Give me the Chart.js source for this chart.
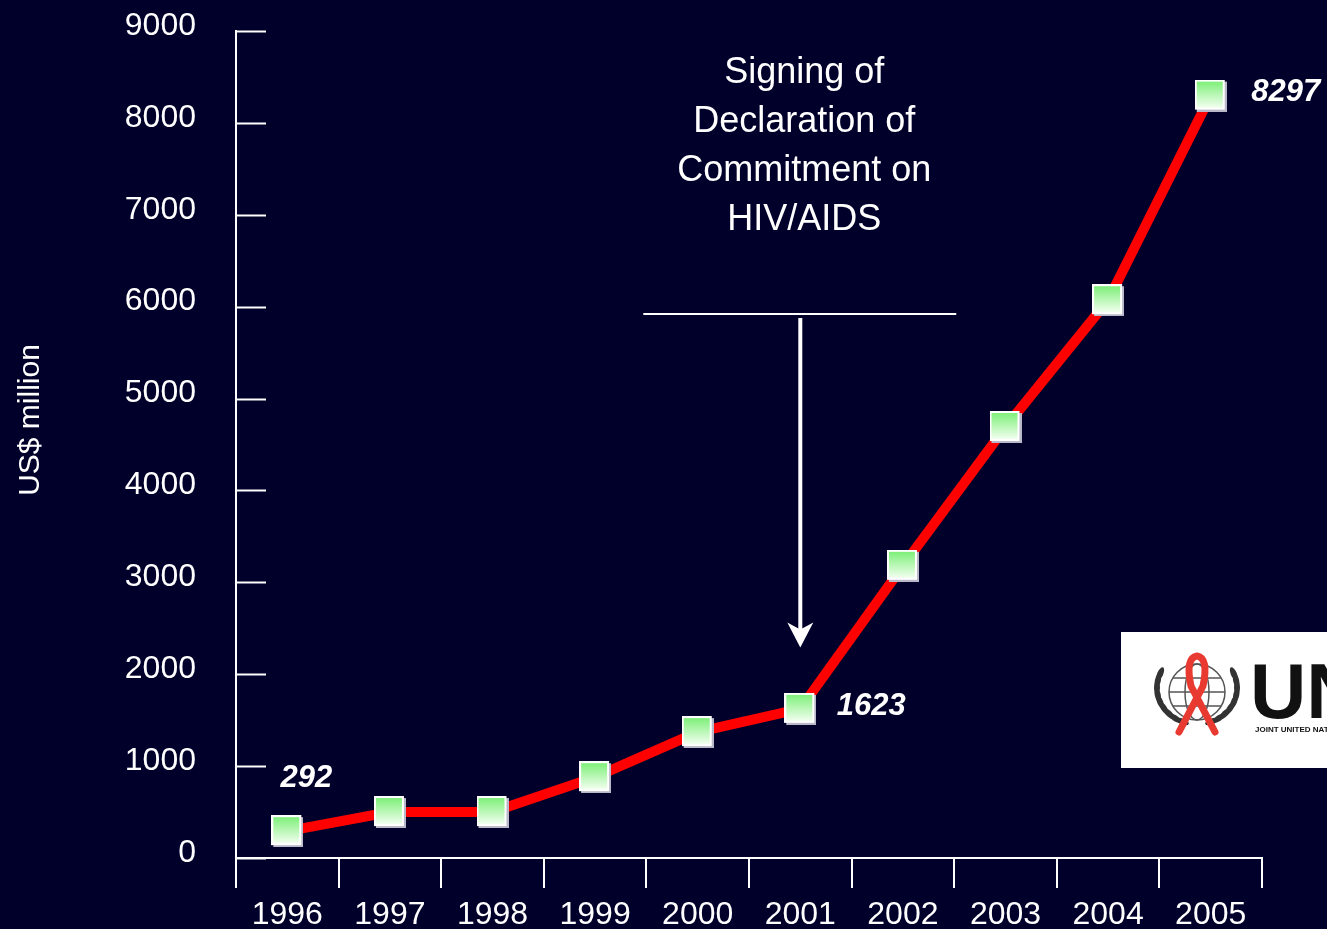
<!DOCTYPE html>
<html>
<head>
<meta charset="utf-8">
<script src="https://cdn.jsdelivr.net/npm/chart.js@4/dist/chart.umd.min.js"></script>
<style>
  html, body { margin: 0; padding: 0; background: #00002a; }
  #wrap { width: 1327px; height: 929px; position: relative; }
</style>
</head>
<body>
<div id="wrap"><canvas id="chart"></canvas></div>
<script>
const years = ["1996", "1997", "1998", "1999", "2000", "2001", "2002", "2003", "2004", "2005"];
const spending = [292, 500, 500, 880, 1370, 1623, 3180, 4690, 6070, 8297];
const labelledIndexes = [0, 5, 9];
const yTicks = [0, 1000, 2000, 3000, 4000, 5000, 6000, 7000, 8000, 9000];
const yTickLabels = ["0", "1000", "2000", "3000", "4000", "5000", "6000", "7000", "8000", "9000"];
const axisTitle = "US$ million";
const annotationLines = ["Signing of", "Declaration of", "Commitment on", "HIV/AIDS"];
const annotationYear = "2001";
const annotationBarValue = 5920;
const annotationTipValue = 2290;

const fontFamily = "'Liberation Sans', Arial, sans-serif";
const white = "#ffffff";

function makeMarker() {
  const c = document.createElement("canvas");
  c.width = 32;
  c.height = 32;
  const g = c.getContext("2d");
  g.fillStyle = "#b8b8c8";
  g.fillRect(2, 2, 30, 30);
  g.fillStyle = white;
  g.fillRect(0, 0, 30, 30);
  const grad = g.createLinearGradient(0, 2, 0, 28);
  grad.addColorStop(0, "#7ff07a");
  grad.addColorStop(1, "#f2fff0");
  g.fillStyle = grad;
  g.fillRect(2, 2, 26, 26);
  return c;
}

const marker = makeMarker();

const decorations = {
  id: "decorations",
  afterDraw(chart) {
    const { ctx, chartArea } = chart;
    const x = chart.scales.x;
    const y = chart.scales.y;
    ctx.save();

    // y tick marks point into the plot
    ctx.strokeStyle = white;
    ctx.lineWidth = 2;
    yTicks.forEach((v) => {
      const py = Math.round(y.getPixelForValue(v)) + 0.5;
      ctx.beginPath();
      ctx.moveTo(chartArea.left, py);
      ctx.lineTo(chartArea.left + 30, py);
      ctx.stroke();
    });

    // axis title
    ctx.save();
    ctx.translate(31, 420);
    ctx.rotate(-Math.PI / 2);
    ctx.fillStyle = white;
    ctx.font = "30px " + fontFamily;
    ctx.textAlign = "center";
    ctx.textBaseline = "middle";
    ctx.fillText(axisTitle, 0, 0);
    ctx.restore();

    // value labels
    const meta = chart.getDatasetMeta(0);
    const offsets = { 0: [19, -53], 5: [71, -2], 9: [75, -3] };
    ctx.font = "italic bold 31px " + fontFamily;
    ctx.fillStyle = white;
    ctx.textAlign = "center";
    ctx.textBaseline = "middle";
    labelledIndexes.forEach((i) => {
      const p = meta.data[i];
      const o = offsets[i];
      ctx.fillText(String(spending[i]), p.x + o[0], p.y + o[1]);
    });

    // annotation
    const idx = years.indexOf(annotationYear);
    const ax = x.getPixelForValue(idx);
    const barY = y.getPixelForValue(annotationBarValue);
    const tipY = y.getPixelForValue(annotationTipValue);
    const half = x.getPixelForValue(1) - x.getPixelForValue(0);
    ctx.strokeStyle = white;
    ctx.lineWidth = 2;
    ctx.beginPath();
    ctx.moveTo(ax - 1.53 * half, barY);
    ctx.lineTo(ax + 1.52 * half, barY);
    ctx.stroke();
    ctx.lineWidth = 4;
    ctx.beginPath();
    ctx.moveTo(ax, barY + 4);
    ctx.lineTo(ax, tipY - 14);
    ctx.stroke();
    ctx.fillStyle = white;
    ctx.beginPath();
    ctx.moveTo(ax, tipY);
    ctx.lineTo(ax - 13, tipY - 25);
    ctx.lineTo(ax, tipY - 18);
    ctx.lineTo(ax + 13, tipY - 25);
    ctx.closePath();
    ctx.fill();

    ctx.font = "36px " + fontFamily;
    ctx.textAlign = "center";
    ctx.textBaseline = "middle";
    annotationLines.forEach((line, i) => {
      ctx.fillText(line, ax + 4, 73 + i * 49);
    });

    // logo box
    ctx.fillStyle = white;
    ctx.fillRect(1121, 632, 206, 136);
    ctx.save();
    ctx.beginPath();
    ctx.rect(1121, 632, 206, 136);
    ctx.clip();
    const cx = 1197, cy = 692;
    ctx.strokeStyle = "#555";
    ctx.lineWidth = 1.5;
    ctx.beginPath();
    ctx.arc(cx, cy, 28, 0, Math.PI * 2);
    ctx.stroke();
    ctx.beginPath();
    ctx.ellipse(cx, cy, 12, 28, 0, 0, Math.PI * 2);
    ctx.stroke();
    ctx.beginPath();
    ctx.moveTo(cx - 28, cy); ctx.lineTo(cx + 28, cy);
    ctx.moveTo(cx - 24, cy - 14); ctx.lineTo(cx + 24, cy - 14);
    ctx.moveTo(cx - 24, cy + 14); ctx.lineTo(cx + 24, cy + 14);
    ctx.stroke();
    // wreath leaves
    ctx.fillStyle = "#333";
    for (let k = 0; k < 9; k++) {
      const a = Math.PI * 0.62 + k * 0.2;
      [1, -1].forEach((side) => {
        const ang = side === 1 ? a : Math.PI - a;
        const lx = cx + Math.cos(ang) * 40;
        const ly = cy + Math.sin(ang) * 36 - 4;
        ctx.beginPath();
        ctx.ellipse(lx, ly, 7, 3, ang + Math.PI / 2, 0, Math.PI * 2);
        ctx.fill();
      });
    }
    // ribbon
    ctx.strokeStyle = "#e83a30";
    ctx.lineWidth = 7;
    ctx.lineCap = "round";
    ctx.beginPath();
    ctx.moveTo(cx - 18, cy + 40);
    ctx.lineTo(cx + 6, cy - 6);
    ctx.quadraticCurveTo(cx + 12, cy - 34, cx, cy - 36);
    ctx.quadraticCurveTo(cx - 12, cy - 34, cx - 6, cy - 6);
    ctx.lineTo(cx + 18, cy + 40);
    ctx.stroke();
    ctx.fillStyle = "#111";
    ctx.font = "bold 78px " + fontFamily;
    ctx.textAlign = "left";
    ctx.textBaseline = "alphabetic";
    ctx.fillText("UN", 1250, 718);
    ctx.font = "bold 8px " + fontFamily;
    ctx.fillText("JOINT UNITED NATIONS", 1255, 732);
    ctx.restore();

    ctx.restore();
  }
};

new Chart(document.getElementById("chart"), {
  type: "line",
  data: {
    labels: years,
    datasets: [
      {
        data: spending,
        borderColor: "#ff0000",
        borderWidth: 10,
        pointStyle: marker,
        pointRadius: 16,
        pointHoverRadius: 16,
        tension: 0,
        fill: false,
      },
    ],
  },
  options: {
    responsive: true,
    maintainAspectRatio: false,
    animation: false,
    events: [],
    layout: { padding: { left: 0, top: 31, right: 65, bottom: 0 } },
    plugins: {
      legend: { display: false },
      tooltip: { enabled: false },
    },
    scales: {
      x: {
        offset: true,
        afterFit: (scale) => { scale.height = 71; },
        grid: {
          offset: true,
          drawOnChartArea: false,
          color: white,
          lineWidth: 2,
          tickLength: 30,
        },
        border: { color: white, width: 2 },
        ticks: {
          color: white,
          padding: 8,
          font: { family: fontFamily, size: 32 },
        },
      },
      y: {
        min: 0,
        max: 9000,
        afterFit: (scale) => {
          scale.width = 236;
          scale.paddingTop = 0;
          scale.paddingBottom = 0;
        },
        grid: { drawOnChartArea: false, drawTicks: false },
        border: { color: white, width: 2 },
        ticks: {
          stepSize: 1000,
          color: white,
          padding: 40,
          labelOffset: -5,
          font: { family: fontFamily, size: 32 },
          callback: (value) => yTickLabels[yTicks.indexOf(value)],
        },
      },
    },
  },
  plugins: [decorations],
});
</script>
</body>
</html>
